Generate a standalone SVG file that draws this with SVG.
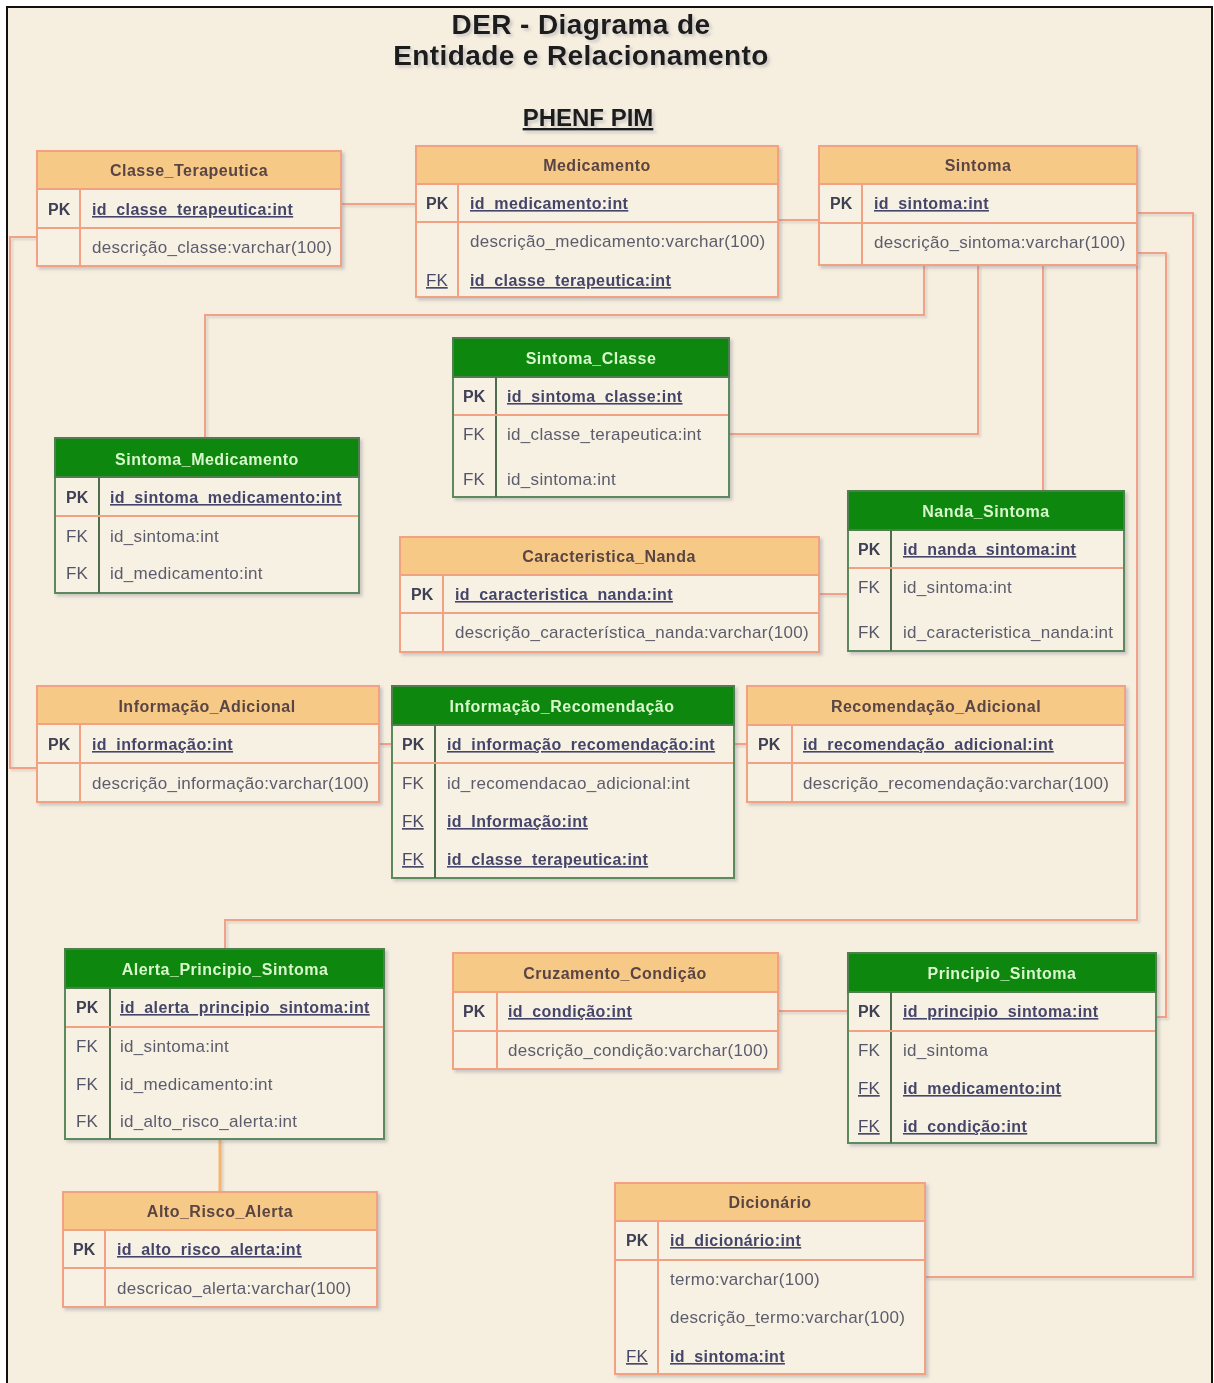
<svg xmlns="http://www.w3.org/2000/svg" width="1214" height="1383" viewBox="0 0 1214 1383">
  <defs>
    <filter id="shade" x="-5%" y="-5%" width="115%" height="120%">
      <feDropShadow dx="2.5" dy="2.5" stdDeviation="1.6" flood-color="#7a7a90" flood-opacity="0.35"/>
    </filter>
    <filter id="lineShade" x="-2%" y="-2%" width="104%" height="104%">
      <feDropShadow dx="2" dy="2" stdDeviation="1" flood-color="#8a8a8a" flood-opacity="0.3"/>
    </filter>
  </defs>
  <style>
    .frame { fill: #f6efdf; stroke: #111; stroke-width: 2; }
    .hdr-o { fill: #f6c987; stroke: #f2a283; stroke-width: 2; }
    .hdr-g { fill: #0b870b; stroke: #4f7f4f; stroke-width: 2; }
    .body-o { fill: #f7f1e3; stroke: #f2a283; stroke-width: 2; }
    .body-g { fill: #f7f1e3; stroke: #5b8a5b; stroke-width: 2; }
    .sep { stroke: #f2a283; stroke-width: 2; }
    .div-o { stroke: #f2a283; stroke-width: 2; }
    .div-g { stroke: #4d6d4d; stroke-width: 2; }
    text { font-family: "Liberation Sans", Arial, sans-serif; }
    .title { font-size: 28px; font-weight: bold; fill: #1a1a1a; text-anchor: middle; letter-spacing: 0.4px; }
    .sub { font-size: 24px; font-weight: bold; fill: #1a1a1a; text-anchor: middle; text-decoration: underline; }
    .th-o { font-size: 16px; font-weight: bold; fill: #5a4444; text-anchor: middle; letter-spacing: 0.5px; }
    .th-g { font-size: 16px; font-weight: bold; fill: #d9f7cc; text-anchor: middle; letter-spacing: 0.5px; }
    .key { font-size: 16px; font-weight: bold; fill: #3f3f55; }
    .fk { font-size: 17px; fill: #55556a; }
    .fku { font-size: 17px; fill: #4a4a68; text-decoration: underline; }
    .fld { font-size: 17px; fill: #5c5c6c; letter-spacing: 0.3px; }
    .pkf { font-size: 16px; font-weight: bold; fill: #45456a; letter-spacing: 0.4px; text-decoration: underline; }
    .conn { fill: none; stroke: #f2a088; stroke-width: 2; }
    .conn-a { fill: none; stroke: #f5b470; stroke-width: 3; }
  </style>

  <!-- page -->
  <rect x="0" y="0" width="1214" height="1383" fill="#ffffff"/>
  <rect class="frame" x="7" y="7" width="1205" height="1390"/>

  <!-- titles -->
  <g id="titles" filter="url(#shade)">
    <text class="title" x="581" y="34">DER - Diagrama de</text>
    <text class="title" x="581" y="65">Entidade e Relacionamento</text>
    <text class="sub" x="588" y="126">PHENF PIM</text>
  </g>

  <!-- relationships -->
  <g id="connectors" filter="url(#lineShade)">
    <path class="conn" d="M341 204 H416"/>
    <path class="conn" d="M37 237 H10 V768 H37"/>
    <path class="conn" d="M778 220 H819"/>
    <path class="conn" d="M924 265 V315 H205 V438"/>
    <path class="conn" d="M729 434 H978 V265"/>
    <path class="conn" d="M1043 265 V491"/>
    <path class="conn" d="M1137 213 H1193 V1277 H925"/>
    <path class="conn" d="M1137 253 H1166 V1017 H1156"/>
    <path class="conn" d="M1137 265 V920 H225 V949"/>
    <path class="conn" d="M819 594 H848"/>
    <path class="conn" d="M379 744 H392"/>
    <path class="conn" d="M734 744 H747"/>
    <path class="conn" d="M778 1011 H848"/>
    <path class="conn-a" d="M220 1139 V1192"/>
  </g>

  <!-- Classe_Terapeutica -->
  <g id="classe_terapeutica" filter="url(#shade)">
    <rect class="body-o" x="37" y="189" width="304" height="77"/>
    <rect class="hdr-o" x="37" y="151" width="304" height="38"/>
    <line class="div-o" x1="80" y1="189" x2="80" y2="266"/>
    <line class="sep" x1="37" y1="228" x2="341" y2="228"/>
    <text class="th-o" x="189" y="176">Classe_Terapeutica</text>
    <text class="key" x="48" y="215">PK</text>
    <text class="pkf" x="92" y="215">id_classe_terapeutica:int</text>
    <text class="fld" x="92" y="253">descrição_classe:varchar(100)</text>
  </g>

  <!-- Medicamento -->
  <g id="medicamento" filter="url(#shade)">
    <rect class="body-o" x="416" y="184" width="362" height="113"/>
    <rect class="hdr-o" x="416" y="146" width="362" height="38"/>
    <line class="div-o" x1="458" y1="184" x2="458" y2="297"/>
    <line class="sep" x1="416" y1="222" x2="778" y2="222"/>
    <text class="th-o" x="597" y="171">Medicamento</text>
    <text class="key" x="426" y="209">PK</text>
    <text class="pkf" x="470" y="209">id_medicamento:int</text>
    <text class="fld" x="470" y="247">descrição_medicamento:varchar(100)</text>
    <text class="fku" x="426" y="286">FK</text>
    <text class="pkf" x="470" y="286">id_classe_terapeutica:int</text>
  </g>

  <!-- Sintoma -->
  <g id="sintoma" filter="url(#shade)">
    <rect class="body-o" x="819" y="184" width="318" height="81"/>
    <rect class="hdr-o" x="819" y="146" width="318" height="38"/>
    <line class="div-o" x1="862" y1="184" x2="862" y2="265"/>
    <line class="sep" x1="819" y1="223" x2="1137" y2="223"/>
    <text class="th-o" x="978" y="171">Sintoma</text>
    <text class="key" x="830" y="209">PK</text>
    <text class="pkf" x="874" y="209">id_sintoma:int</text>
    <text class="fld" x="874" y="248">descrição_sintoma:varchar(100)</text>
  </g>

  <!-- Sintoma_Classe -->
  <g id="sintoma_classe" filter="url(#shade)">
    <rect class="body-g" x="453" y="377" width="276" height="120"/>
    <rect class="hdr-g" x="453" y="338" width="276" height="39"/>
    <line class="div-g" x1="496" y1="377" x2="496" y2="497"/>
    <line class="sep" x1="454" y1="415" x2="728" y2="415"/>
    <text class="th-g" x="591" y="364">Sintoma_Classe</text>
    <text class="key" x="463" y="402">PK</text>
    <text class="pkf" x="507" y="402">id_sintoma_classe:int</text>
    <text class="fk" x="463" y="440">FK</text>
    <text class="fld" x="507" y="440">id_classe_terapeutica:int</text>
    <text class="fk" x="463" y="485">FK</text>
    <text class="fld" x="507" y="485">id_sintoma:int</text>
  </g>

  <!-- Sintoma_Medicamento -->
  <g id="sintoma_medicamento" filter="url(#shade)">
    <rect class="body-g" x="55" y="477" width="304" height="116"/>
    <rect class="hdr-g" x="55" y="438" width="304" height="39"/>
    <line class="div-g" x1="99" y1="477" x2="99" y2="593"/>
    <line class="sep" x1="56" y1="516" x2="358" y2="516"/>
    <text class="th-g" x="207" y="465">Sintoma_Medicamento</text>
    <text class="key" x="66" y="503">PK</text>
    <text class="pkf" x="110" y="503">id_sintoma_medicamento:int</text>
    <text class="fk" x="66" y="542">FK</text>
    <text class="fld" x="110" y="542">id_sintoma:int</text>
    <text class="fk" x="66" y="579">FK</text>
    <text class="fld" x="110" y="579">id_medicamento:int</text>
  </g>

  <!-- Nanda_Sintoma -->
  <g id="nanda_sintoma" filter="url(#shade)">
    <rect class="body-g" x="848" y="530" width="276" height="121"/>
    <rect class="hdr-g" x="848" y="491" width="276" height="39"/>
    <line class="div-g" x1="891" y1="530" x2="891" y2="651"/>
    <line class="sep" x1="849" y1="568" x2="1123" y2="568"/>
    <text class="th-g" x="986" y="517">Nanda_Sintoma</text>
    <text class="key" x="858" y="555">PK</text>
    <text class="pkf" x="903" y="555">id_nanda_sintoma:int</text>
    <text class="fk" x="858" y="593">FK</text>
    <text class="fld" x="903" y="593">id_sintoma:int</text>
    <text class="fk" x="858" y="638">FK</text>
    <text class="fld" x="903" y="638">id_caracteristica_nanda:int</text>
  </g>

  <!-- Caracteristica_Nanda -->
  <g id="caracteristica_nanda" filter="url(#shade)">
    <rect class="body-o" x="400" y="575" width="419" height="77"/>
    <rect class="hdr-o" x="400" y="537" width="419" height="38"/>
    <line class="div-o" x1="443" y1="575" x2="443" y2="652"/>
    <line class="sep" x1="400" y1="613" x2="819" y2="613"/>
    <text class="th-o" x="609" y="562">Caracteristica_Nanda</text>
    <text class="key" x="411" y="600">PK</text>
    <text class="pkf" x="455" y="600">id_caracteristica_nanda:int</text>
    <text class="fld" x="455" y="638">descrição_característica_nanda:varchar(100)</text>
  </g>

  <!-- Informação_Adicional -->
  <g id="informacao_adicional" filter="url(#shade)">
    <rect class="body-o" x="37" y="724" width="342" height="78"/>
    <rect class="hdr-o" x="37" y="686" width="342" height="38"/>
    <line class="div-o" x1="80" y1="724" x2="80" y2="802"/>
    <line class="sep" x1="37" y1="763" x2="379" y2="763"/>
    <text class="th-o" x="207" y="712">Informação_Adicional</text>
    <text class="key" x="48" y="750">PK</text>
    <text class="pkf" x="92" y="750">id_informação:int</text>
    <text class="fld" x="92" y="789">descrição_informação:varchar(100)</text>
  </g>

  <!-- Informação_Recomendação -->
  <g id="informacao_recomendacao" filter="url(#shade)">
    <rect class="body-g" x="392" y="725" width="342" height="153"/>
    <rect class="hdr-g" x="392" y="686" width="342" height="39"/>
    <line class="div-g" x1="435" y1="725" x2="435" y2="878"/>
    <line class="sep" x1="393" y1="763" x2="733" y2="763"/>
    <text class="th-g" x="562" y="712">Informação_Recomendação</text>
    <text class="key" x="402" y="750">PK</text>
    <text class="pkf" x="447" y="750">id_informação_recomendação:int</text>
    <text class="fk" x="402" y="789">FK</text>
    <text class="fld" x="447" y="789">id_recomendacao_adicional:int</text>
    <text class="fku" x="402" y="827">FK</text>
    <text class="pkf" x="447" y="827">id_Informação:int</text>
    <text class="fku" x="402" y="865">FK</text>
    <text class="pkf" x="447" y="865">id_classe_terapeutica:int</text>
  </g>

  <!-- Recomendação_Adicional -->
  <g id="recomendacao_adicional" filter="url(#shade)">
    <rect class="body-o" x="747" y="725" width="378" height="77"/>
    <rect class="hdr-o" x="747" y="686" width="378" height="39"/>
    <line class="div-o" x1="792" y1="725" x2="792" y2="802"/>
    <line class="sep" x1="747" y1="763" x2="1125" y2="763"/>
    <text class="th-o" x="936" y="712">Recomendação_Adicional</text>
    <text class="key" x="758" y="750">PK</text>
    <text class="pkf" x="803" y="750">id_recomendação_adicional:int</text>
    <text class="fld" x="803" y="789">descrição_recomendação:varchar(100)</text>
  </g>

  <!-- Alerta_Principio_Sintoma -->
  <g id="alerta_principio_sintoma" filter="url(#shade)">
    <rect class="body-g" x="65" y="988" width="319" height="151"/>
    <rect class="hdr-g" x="65" y="949" width="319" height="39"/>
    <line class="div-g" x1="110" y1="988" x2="110" y2="1139"/>
    <line class="sep" x1="66" y1="1027" x2="383" y2="1027"/>
    <text class="th-g" x="225" y="975">Alerta_Principio_Sintoma</text>
    <text class="key" x="76" y="1013">PK</text>
    <text class="pkf" x="120" y="1013">id_alerta_principio_sintoma:int</text>
    <text class="fk" x="76" y="1052">FK</text>
    <text class="fld" x="120" y="1052">id_sintoma:int</text>
    <text class="fk" x="76" y="1090">FK</text>
    <text class="fld" x="120" y="1090">id_medicamento:int</text>
    <text class="fk" x="76" y="1127">FK</text>
    <text class="fld" x="120" y="1127">id_alto_risco_alerta:int</text>
  </g>

  <!-- Alto_Risco_Alerta -->
  <g id="alto_risco_alerta" filter="url(#shade)">
    <rect class="body-o" x="63" y="1230" width="314" height="77"/>
    <rect class="hdr-o" x="63" y="1192" width="314" height="38"/>
    <line class="div-o" x1="105" y1="1230" x2="105" y2="1307"/>
    <line class="sep" x1="63" y1="1268" x2="377" y2="1268"/>
    <text class="th-o" x="220" y="1217">Alto_Risco_Alerta</text>
    <text class="key" x="73" y="1255">PK</text>
    <text class="pkf" x="117" y="1255">id_alto_risco_alerta:int</text>
    <text class="fld" x="117" y="1294">descricao_alerta:varchar(100)</text>
  </g>

  <!-- Cruzamento_Condição -->
  <g id="cruzamento_condicao" filter="url(#shade)">
    <rect class="body-o" x="453" y="992" width="325" height="77"/>
    <rect class="hdr-o" x="453" y="953" width="325" height="39"/>
    <line class="div-o" x1="497" y1="992" x2="497" y2="1069"/>
    <line class="sep" x1="453" y1="1031" x2="778" y2="1031"/>
    <text class="th-o" x="615" y="979">Cruzamento_Condição</text>
    <text class="key" x="463" y="1017">PK</text>
    <text class="pkf" x="508" y="1017">id_condição:int</text>
    <text class="fld" x="508" y="1056">descrição_condição:varchar(100)</text>
  </g>

  <!-- Principio_Sintoma -->
  <g id="principio_sintoma" filter="url(#shade)">
    <rect class="body-g" x="848" y="992" width="308" height="151"/>
    <rect class="hdr-g" x="848" y="953" width="308" height="39"/>
    <line class="div-g" x1="891" y1="992" x2="891" y2="1143"/>
    <line class="sep" x1="849" y1="1031" x2="1155" y2="1031"/>
    <text class="th-g" x="1002" y="979">Principio_Sintoma</text>
    <text class="key" x="858" y="1017">PK</text>
    <text class="pkf" x="903" y="1017">id_principio_sintoma:int</text>
    <text class="fk" x="858" y="1056">FK</text>
    <text class="fld" x="903" y="1056">id_sintoma</text>
    <text class="fku" x="858" y="1094">FK</text>
    <text class="pkf" x="903" y="1094">id_medicamento:int</text>
    <text class="fku" x="858" y="1132">FK</text>
    <text class="pkf" x="903" y="1132">id_condição:int</text>
  </g>

  <!-- Dicionário -->
  <g id="dicionario" filter="url(#shade)">
    <rect class="body-o" x="615" y="1221" width="310" height="153"/>
    <rect class="hdr-o" x="615" y="1183" width="310" height="38"/>
    <line class="div-o" x1="658" y1="1221" x2="658" y2="1374"/>
    <line class="sep" x1="615" y1="1260" x2="925" y2="1260"/>
    <text class="th-o" x="770" y="1208">Dicionário</text>
    <text class="key" x="626" y="1246">PK</text>
    <text class="pkf" x="670" y="1246">id_dicionário:int</text>
    <text class="fld" x="670" y="1285">termo:varchar(100)</text>
    <text class="fld" x="670" y="1323">descrição_termo:varchar(100)</text>
    <text class="fku" x="626" y="1362">FK</text>
    <text class="pkf" x="670" y="1362">id_sintoma:int</text>
  </g>
</svg>
